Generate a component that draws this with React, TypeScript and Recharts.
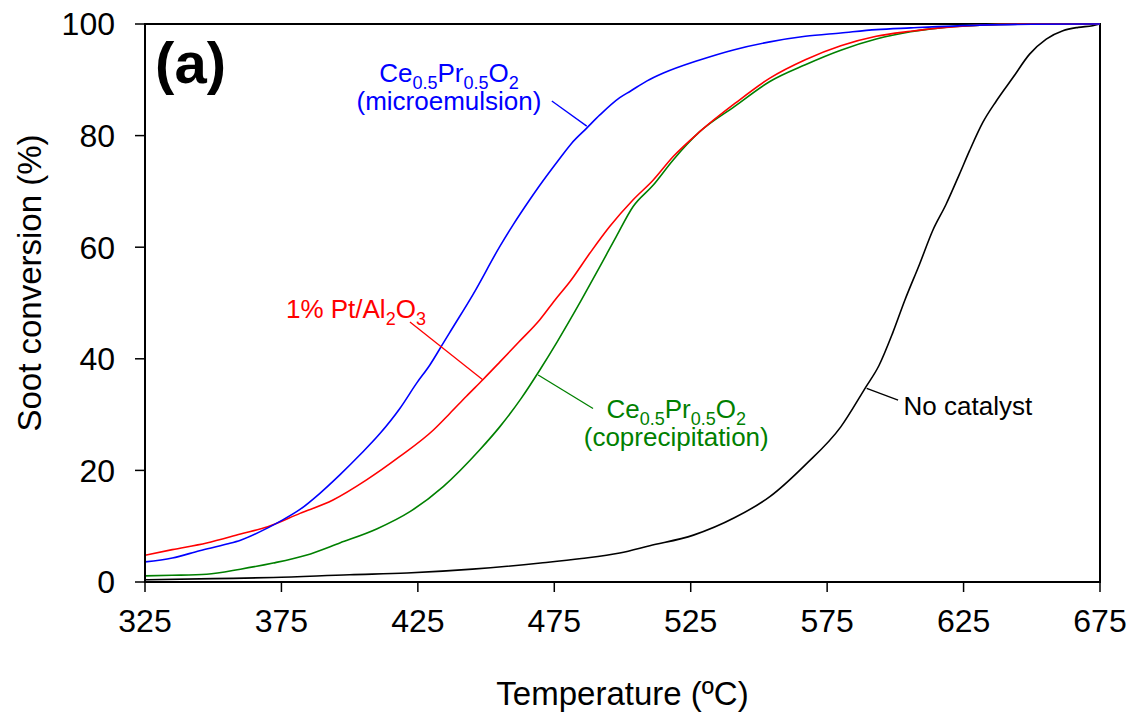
import { LineChart, Line, XAxis, YAxis, ReferenceLine, ReferenceDot, ReferenceArea } from "recharts";

const FONT = "Arial, 'Liberation Sans', Helvetica, sans-serif";

const xTicks = [325, 375, 425, 475, 525, 575, 625, 675];
const yTicks = [0, 20, 40, 60, 80, 100];

// [temperature ºC, soot conversion %]
const microemulsion: [number, number][] = [
  [325, 3.6], [335, 4.3], [345, 5.6], [355, 6.8], [360, 7.5], [370, 9.7], [375, 11.0],
  [381.8, 13.0], [389.1, 15.9], [396.4, 19.2], [403.8, 22.8], [411.1, 26.6], [418.4, 31.1],
  [424.5, 35.6], [429.4, 38.9], [434.3, 42.8], [437.3, 45.2], [445.3, 51.6], [455, 60.1],
  [459.9, 64.0], [466, 68.5], [469.7, 71.1], [477, 75.9], [481.3, 78.6], [486.8, 81.3],
  [491.7, 83.7], [499, 86.8], [503, 88.0], [509, 89.8], [515, 91.2], [528, 93.5], [541, 95.4],
  [554, 96.8], [567, 97.8], [580, 98.4], [593, 99.0], [605.6, 99.3], [631, 99.8], [650, 99.95],
  [675, 100],
];

const ptAlumina: [number, number][] = [
  [325, 4.8], [335, 5.8], [347.6, 7.0], [360, 8.6], [370, 9.9], [381.8, 12.3], [393.9, 14.7],
  [406.2, 18.3], [418.4, 22.5], [430.6, 27.2], [436.7, 30.2], [442.8, 33.3], [448.9, 36.3],
  [455, 39.4], [462, 43], [469.7, 47], [475.2, 50.5], [480.7, 53.8], [488, 58.9],
  [495.3, 63.7], [503.9, 68.5], [511.2, 72], [518.5, 76.2], [528.3, 80.7], [541.3, 85.8],
  [554, 90.3], [567, 93.6], [580, 96.1], [593, 97.8], [605.6, 98.7], [618.4, 99.4],
  [631, 99.8], [650, 100], [675, 100],
];

const coprecipitation: [number, number][] = [
  [325, 1.1], [335, 1.2], [347.6, 1.4], [360, 2.3], [372, 3.4], [384, 4.8], [396.4, 7.0],
  [409.9, 9.5], [422.1, 12.6], [434.3, 17.1], [447.7, 23.7], [455, 27.8], [463, 33],
  [469.7, 38.0], [476, 43], [484.9, 50.5], [491.7, 56.5], [497.7, 61.9], [503.9, 67.3],
  [511.2, 71.1], [518.5, 75.6], [528.3, 80.7], [541, 85.2], [554, 89.7], [567, 92.7],
  [580, 95.3], [593, 97.3], [605.6, 98.6], [618, 99.4], [631, 99.8], [650, 100], [675, 100],
];

const noCatalyst: [number, number][] = [
  [325, 0.4], [350, 0.6], [372, 0.8], [400, 1.3], [421, 1.6], [445, 2.3], [470, 3.4],
  [485, 4.2], [499, 5.2], [510, 6.5], [526, 8.4], [541, 11.5], [554, 15.3], [567, 21.0],
  [580, 27.8], [589, 34.8], [594, 38.8], [599, 44.6], [603.4, 50.4], [608.9, 57],
  [613.7, 63], [618.6, 67.7], [623.5, 73.1], [627.2, 77.3], [632.1, 82.4], [637, 86.2],
  [643.1, 90.4], [649.2, 94.6], [655.3, 97.3], [661.4, 98.8], [667, 99.4], [672.3, 99.7],
  [675, 100],
];

const toRows = (pts: [number, number][]) => pts.map(([t, c]) => ({ t, c }));

const BLUE = "#0000ff";
const RED = "#ff0000";
const GREEN = "#008000";
const BLACK = "#000000";

// Ce0.5Pr0.5O2 with subscripts
function CePrO(size: number) {
  const sub = Math.round(size * 0.68);
  const d = Math.round(size * 0.27);
  return [
    <tspan key="a">Ce</tspan>,
    <tspan key="b" fontSize={sub} dy={d}>0.5</tspan>,
    <tspan key="c" dy={-d}>Pr</tspan>,
    <tspan key="d" fontSize={sub} dy={d}>0.5</tspan>,
    <tspan key="e" dy={-d}>O</tspan>,
    <tspan key="f" fontSize={sub} dy={d}>2</tspan>,
  ];
}

const LABEL_SIZE = 26;
const AXIS_SIZE = 32;

export default function App() {
  return (
    <div style={{ position: "absolute", left: 0, top: 0, background: "#fff" }}>
      <LineChart width={1136} height={720} margin={{ top: 24, right: 36, left: 0, bottom: 0 }}>
        <XAxis
          type="number"
          dataKey="t"
          domain={[325, 675]}
          ticks={xTicks}
          allowDataOverflow
          height={138}
          tickSize={10}
          tickMargin={17}
          axisLine={{ stroke: BLACK, strokeWidth: 2 }}
          tickLine={{ stroke: BLACK, strokeWidth: 1.5 }}
          tick={{ fill: BLACK, fontSize: AXIS_SIZE, fontFamily: FONT }}
          label={{ value: "Temperature (ºC)", position: "insideBottom", offset: 15, fill: BLACK, fontSize: 33, fontFamily: FONT }}
        />
        <YAxis
          type="number"
          domain={[0, 100]}
          ticks={yTicks}
          width={145}
          tickSize={10}
          tickMargin={20}
          axisLine={{ stroke: BLACK, strokeWidth: 2 }}
          tickLine={{ stroke: BLACK, strokeWidth: 1.5 }}
          tick={{ fill: BLACK, fontSize: AXIS_SIZE, fontFamily: FONT }}
          label={{
            content: () => (
              <text x={41} y={283} transform="rotate(-90, 41, 283)" textAnchor="middle" fill={BLACK} fontSize={33} fontFamily={FONT}>
                Soot conversion (%)
              </text>
            ),
          }}
        />
        <ReferenceArea x1={325} x2={675} y1={0} y2={100} fill="none" stroke={BLACK} strokeWidth={2} />

        <Line data={toRows(noCatalyst)} dataKey="c" type="monotone" stroke={BLACK} strokeWidth={1.6} dot={false} isAnimationActive={false} />
        <Line data={toRows(coprecipitation)} dataKey="c" type="monotone" stroke={GREEN} strokeWidth={1.6} dot={false} isAnimationActive={false} />
        <Line data={toRows(ptAlumina)} dataKey="c" type="monotone" stroke={RED} strokeWidth={1.6} dot={false} isAnimationActive={false} />
        <Line data={toRows(microemulsion)} dataKey="c" type="monotone" stroke={BLUE} strokeWidth={1.6} dot={false} isAnimationActive={false} />

        {/* leader lines */}
        <ReferenceLine segment={[{ x: 474.1, y: 86.2 }, { x: 486.9, y: 81.7 }]} stroke={BLUE} strokeWidth={1.3} />
        <ReferenceLine segment={[{ x: 422.1, y: 46.6 }, { x: 448.9, y: 36.2 }]} stroke={RED} strokeWidth={1.3} />
        <ReferenceLine segment={[{ x: 469.1, y: 37.1 }, { x: 489.2, y: 31.1 }]} stroke={GREEN} strokeWidth={1.3} />
        <ReferenceLine segment={[{ x: 589.5, y: 34.7 }, { x: 601, y: 32.6 }]} stroke={BLACK} strokeWidth={1.3} />

        {/* annotations */}
        <ReferenceDot
          x={328.7}
          y={89.4}
          r={0}
          shape={(p: any) => (
            <text x={p.cx} y={p.cy} fill={BLACK} fontSize={58} fontWeight="bold" fontFamily={FONT}>(a)</text>
          )}
        />
        <ReferenceDot
          x={436.4}
          y={89.6}
          r={0}
          shape={(p: any) => (
            <g fill={BLUE} fontSize={LABEL_SIZE} fontFamily={FONT} textAnchor="middle">
              <text x={p.cx} y={p.cy}>{CePrO(LABEL_SIZE)}</text>
              <text x={p.cx} y={p.cy + 28}>(microemulsion)</text>
            </g>
          )}
        />
        <ReferenceDot
          x={402.3}
          y={47.3}
          r={0}
          shape={(p: any) => (
            <text x={p.cx} y={p.cy} fill={RED} fontSize={LABEL_SIZE} fontFamily={FONT} textAnchor="middle">
              <tspan>1% Pt/Al</tspan>
              <tspan fontSize={18} dy={7}>2</tspan>
              <tspan dy={-7}>O</tspan>
              <tspan fontSize={18} dy={7}>3</tspan>
            </text>
          )}
        />
        <ReferenceDot
          x={519.7}
          y={29.4}
          r={0}
          shape={(p: any) => (
            <g fill={GREEN} fontSize={LABEL_SIZE} fontFamily={FONT} textAnchor="middle">
              <text x={p.cx} y={p.cy}>{CePrO(LABEL_SIZE)}</text>
              <text x={p.cx} y={p.cy + 28}>(coprecipitation)</text>
            </g>
          )}
        />
        <ReferenceDot
          x={603}
          y={29.9}
          r={0}
          shape={(p: any) => (
            <text x={p.cx} y={p.cy} fill={BLACK} fontSize={LABEL_SIZE} fontFamily={FONT}>No catalyst</text>
          )}
        />
      </LineChart>
    </div>
  );
}
